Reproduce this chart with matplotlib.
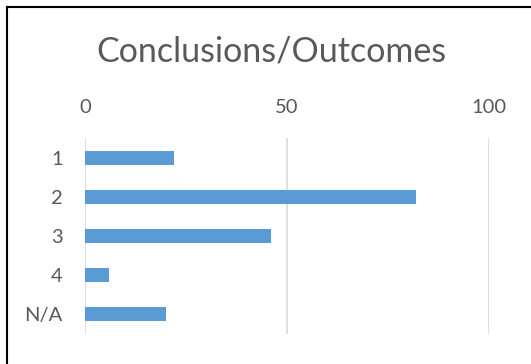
import numpy as np
import matplotlib
matplotlib.use("Agg")
import matplotlib.pyplot as plt
from matplotlib.lines import Line2D

# survey counts per conclusion/outcome rating
categories = ["1", "2", "3", "4", "N/A"]
counts = [22, 82, 46, 6, 20]
x_ticks = [0, 50, 100]

bar_color = "#5B9BD5"
text_color = "#595959"
grid_color = "#D9D9D9"

plt.rcParams['font.family'] = ['Lato', 'DejaVu Sans']

fig = plt.figure(figsize=(5.31, 3.64), dpi=100)
ax = fig.add_axes([0.160, 0.0835, 0.761, 0.5368])

y = np.arange(len(categories))
ax.barh(y, counts, height=0.35, color=bar_color, zorder=3)

ax.set_xlim(0, 100)
ax.set_ylim(len(categories) - 0.5, -0.5)
ax.set_xticks(x_ticks)
ax.set_yticks(y)
ax.set_yticklabels(categories)
ax.xaxis.tick_top()
ax.tick_params(axis='x', length=0, pad=16, labelsize=14.5, labelcolor=text_color)
ax.tick_params(axis='y', length=0, pad=16, labelsize=14.5, labelcolor=text_color)
ax.grid(axis='x', color=grid_color, linewidth=1.2, zorder=0)
for s in ax.spines.values():
    s.set_visible(False)

fig.text(0.511, 0.858, "Conclusions/Outcomes", ha='center', va='center',
         fontsize=24.5, color=text_color)

# chart frame: top and left edges
fig.add_artist(Line2D([6.5 / 531, 1], [1 - 6.5 / 364] * 2, color='black', lw=1.5))
fig.add_artist(Line2D([6.5 / 531] * 2, [0, 1 - 6.5 / 364], color='black', lw=1.5))

fig.savefig("out.png", dpi=100)
